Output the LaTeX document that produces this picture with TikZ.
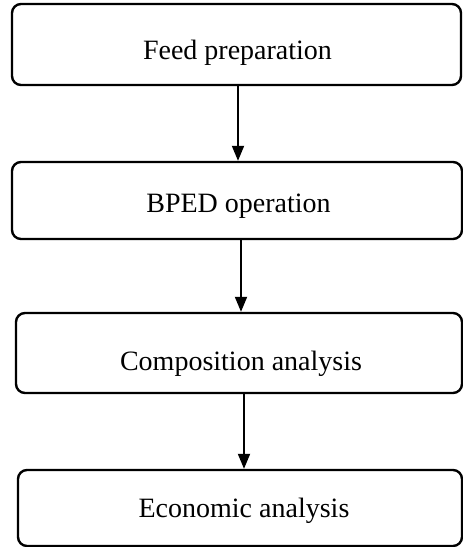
\documentclass[tikz,border=0pt]{standalone}
\usepackage{fontspec}
\setmainfont{Liberation Serif}
\usetikzlibrary{arrows.meta}
\tikzset{
  stage/.style={draw=black, line width=2.4pt, rounded corners=9pt, inner sep=0pt},
  label/.style={inner sep=0pt, font=\fontsize{28}{32}\selectfont},
  arr/.style={line width=1.8pt, -{Triangle[length=15pt,width=12pt]}}
}
\begin{document}
\begin{tikzpicture}[x=1pt,y=-1pt]
\useasboundingbox (0,0) rectangle (463,547);
\node[stage, minimum width=449pt, minimum height=81pt] (b1) at (236.5,44.5) {};
\node[stage, minimum width=450pt, minimum height=77pt] (b2) at (237,200.5) {};
\node[stage, minimum width=446pt, minimum height=80pt] (b3) at (239,353) {};
\node[stage, minimum width=444pt, minimum height=76pt] (b4) at (240,508) {};
\node[label] (t1) at (237.5,53) {Feed preparation};
\node[label] (t2) at (238.5,206) {BPED operation};
\node[label] (t3) at (241,363.5) {Composition analysis};
\node[label] (t4) at (244,510.5) {Economic analysis};
\draw[arr] ([xshift=1.5pt]b1.south) -- ([xshift=1.5pt]b1.south |- b2.north);
\draw[arr] ([xshift=4pt]b2.south) -- ([xshift=4pt]b2.south |- b3.north);
\draw[arr] ([xshift=5pt]b3.south) -- ([xshift=5pt]b3.south |- b4.north);
\end{tikzpicture}
\end{document}
